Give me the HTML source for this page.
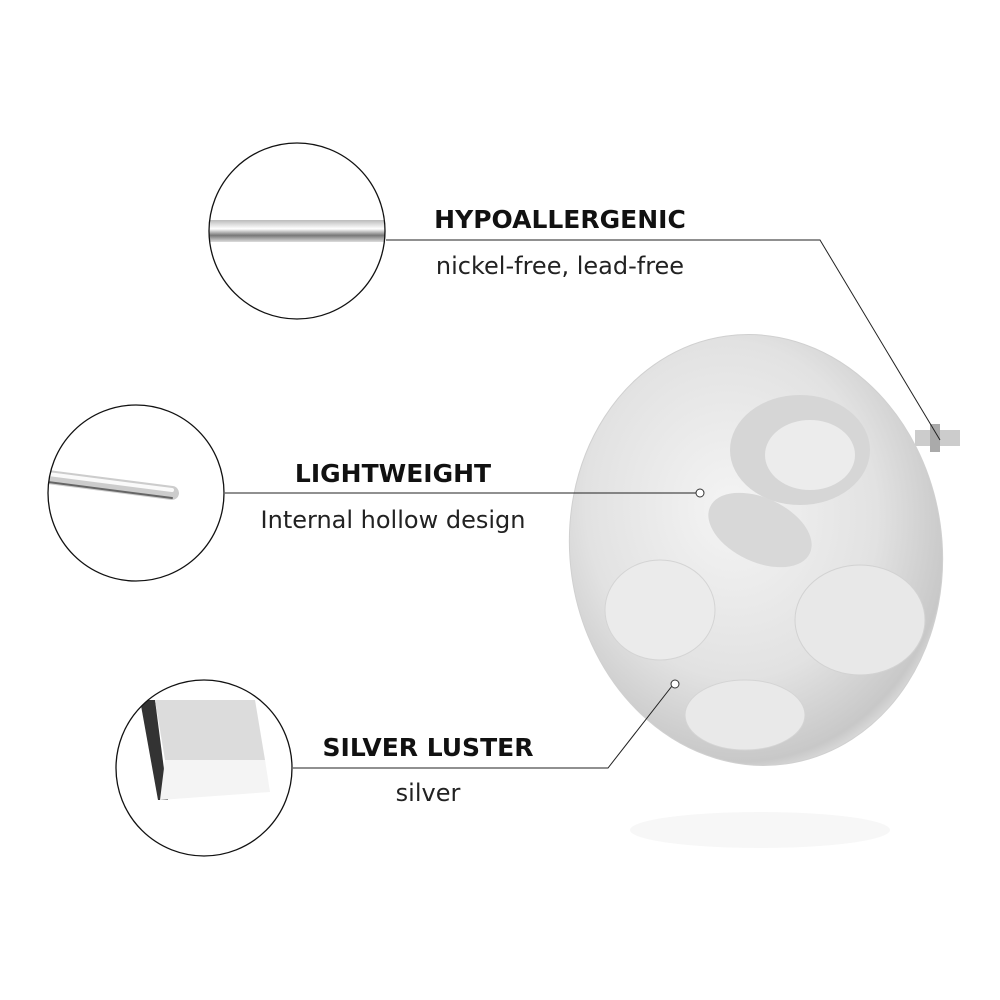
<!DOCTYPE html>
<html><head><meta charset="utf-8"><style>
html,body{margin:0;padding:0;background:#fff;width:1000px;height:1000px;overflow:hidden}
svg{display:block}
text{font-family:"DejaVu Sans","Liberation Sans",sans-serif}
</style></head><body>
<svg width="1000" height="1000" viewBox="0 0 1000 1000">
<defs>
<radialGradient id="ear" cx="0.45" cy="0.4" r="0.65">
<stop offset="0" stop-color="#f4f4f4"/><stop offset="0.6" stop-color="#e2e2e2"/><stop offset="0.9" stop-color="#c8c8c8"/><stop offset="1" stop-color="#f0f0f0"/>
</radialGradient>
<linearGradient id="rod" x1="0" y1="0" x2="0" y2="1">
<stop offset="0" stop-color="#bbb"/><stop offset="0.4" stop-color="#fff"/><stop offset="0.7" stop-color="#777"/><stop offset="1" stop-color="#ddd"/>
</linearGradient>
<clipPath id="c1"><circle cx="297" cy="231" r="88"/></clipPath>
<clipPath id="c2"><circle cx="136" cy="493" r="88"/></clipPath>
<clipPath id="c3"><circle cx="204" cy="768" r="88"/></clipPath>
</defs>
<!-- earring -->
<rect x="915" y="430" width="45" height="16" fill="#ccc"/>
<rect x="930" y="424" width="10" height="28" fill="#aaa"/>
<ellipse cx="756" cy="550" rx="186" ry="216" transform="rotate(-8 756 550)" fill="url(#ear)" stroke="#d0d0d0"/>
<ellipse cx="800" cy="450" rx="70" ry="55" fill="#d6d6d6"/>
<ellipse cx="810" cy="455" rx="45" ry="35" fill="#ececec"/>
<ellipse cx="760" cy="530" rx="55" ry="32" transform="rotate(25 760 530)" fill="#d8d8d8"/>
<ellipse cx="860" cy="620" rx="65" ry="55" fill="#e8e8e8" stroke="#d2d2d2"/>
<ellipse cx="660" cy="610" rx="55" ry="50" fill="#ebebeb" stroke="#d4d4d4"/>
<ellipse cx="745" cy="715" rx="60" ry="35" fill="#e9e9e9" stroke="#d4d4d4"/>
<ellipse cx="760" cy="830" rx="130" ry="18" fill="#f7f7f7"/>
<!-- circles -->
<g clip-path="url(#c1)"><rect x="200" y="220" width="185" height="22" fill="url(#rod)"/></g>
<circle cx="297" cy="231" r="88" fill="none" stroke="#111" stroke-width="1.3"/>
<g clip-path="url(#c2)">
<line x1="40" y1="476" x2="172" y2="493" stroke="#ccc" stroke-width="14" stroke-linecap="round"/>
<line x1="40" y1="473" x2="172" y2="490" stroke="#fafafa" stroke-width="4" stroke-linecap="round"/>
<line x1="40" y1="481" x2="172" y2="498" stroke="#666" stroke-width="2" stroke-linecap="round"/>
</g>
<circle cx="136" cy="493" r="88" fill="none" stroke="#111" stroke-width="1.3"/>
<g clip-path="url(#c3)">
<polygon points="140,700 158,800 168,800 155,700" fill="#333"/>
<polygon points="155,700 255,700 265,760 165,760" fill="#dcdcdc"/>
<polygon points="165,760 265,760 270,792 160,800" fill="#f4f4f4"/>
</g>
<circle cx="204" cy="768" r="88" fill="none" stroke="#111" stroke-width="1.3"/>
<!-- leaders -->
<polyline points="386,240 820,240 940,440" fill="none" stroke="#222" stroke-width="1"/>
<line x1="225" y1="493" x2="696" y2="493" stroke="#222" stroke-width="1"/>
<circle cx="700" cy="493" r="4" fill="#fff" stroke="#333"/>
<polyline points="293,768 608,768 672,686" fill="none" stroke="#222" stroke-width="1"/>
<circle cx="675" cy="684" r="4" fill="#fff" stroke="#333"/>
<!-- labels -->
<text x="560" y="228" text-anchor="middle" font-size="25" font-weight="bold" fill="#111">HYPOALLERGENIC</text>
<text x="560" y="274" text-anchor="middle" font-size="24" fill="#222">nickel-free, lead-free</text>
<text x="393" y="482" text-anchor="middle" font-size="25" font-weight="bold" fill="#111">LIGHTWEIGHT</text>
<text x="393" y="528" text-anchor="middle" font-size="24" fill="#222">Internal hollow design</text>
<text x="428" y="756" text-anchor="middle" font-size="25" font-weight="bold" fill="#111">SILVER LUSTER</text>
<text x="428" y="801" text-anchor="middle" font-size="24" fill="#222">silver</text>
</svg>
</body></html>
